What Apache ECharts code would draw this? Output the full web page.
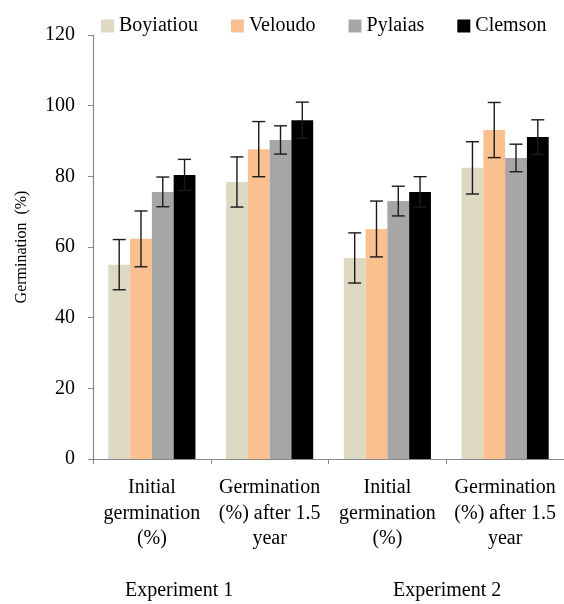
<!DOCTYPE html>
<html>
<head>
<meta charset="utf-8">
<script src="https://cdn.jsdelivr.net/npm/echarts@6/dist/echarts.min.js"></script>
<style>html,body{margin:0;padding:0;background:#fff}#c{width:564px;height:604px}</style>
</head>
<body>
<div id="c"></div>
<script>
const categories = ['Initial\ngermination\n(%)', 'Germination\n(%) after 1.5\nyear', 'Initial\ngermination\n(%)', 'Germination\n(%) after 1.5\nyear'];
const experiments = ['Experiment 1', 'Experiment 2'];
const seriesNames = ['Boyiatiou', 'Veloudo', 'Pylaias', 'Clemson'];
const boyiatiou = [55.0, 78.4, 56.9, 82.4];
const veloudo = [62.3, 87.7, 65.1, 93.1];
const pylaias = [75.6, 90.3, 73.0, 85.2];
const clemson = [80.4, 95.9, 75.6, 91.1];
const boyiatiouErr = [7.1, 7.1, 7.1, 7.4];
const veloudoErr = [7.9, 7.8, 7.9, 7.8];
const pylaiasErr = [4.2, 4.0, 4.2, 3.9];
const clemsonErr = [4.4, 5.1, 4.3, 4.9];
const yTicks = [0, 20, 40, 60, 80, 100, 120];

const colors = ['#DDD9C3', '#FAC090', '#A6A6A6', '#000000'];
const means = [boyiatiou, veloudo, pylaias, clemson];
const errs = [boyiatiouErr, veloudoErr, pylaiasErr, clemsonErr];
const FONT = '"Liberation Serif", "Times New Roman", serif';
const GAP = 0.26;

const errData = [];
means.forEach((arr, s) => arr.forEach((v, i) => errData.push([i, s, v, errs[s][i]])));

const chart = echarts.init(document.getElementById('c'));
chart.setOption({
  animation: false,
  backgroundColor: '#fff',
  textStyle: { fontFamily: FONT },
  legend: {
    data: seriesNames,
    left: 101, top: 16, padding: 0,
    icon: 'rect', itemWidth: 13, itemHeight: 13, itemGap: 33,
    textStyle: { fontFamily: FONT, fontSize: 20, color: '#000' }
  },
  grid: { left: 93, right: 0, top: 35, bottom: 145, containLabel: false },
  xAxis: {
    type: 'category',
    data: categories,
    axisLine: { lineStyle: { color: '#888', width: 1.2 } },
    axisTick: { show: true, length: 5, interval: 0, lineStyle: { color: '#888' } },
    axisLabel: { interval: 0, margin: 16, fontFamily: FONT, fontSize: 20, lineHeight: 25.5, color: '#000' }
  },
  yAxis: {
    type: 'value', min: yTicks[0], max: yTicks[yTicks.length - 1], interval: 20,
    name: 'Germination  (%)', nameLocation: 'middle', nameGap: 63,
    nameTextStyle: { fontFamily: FONT, fontSize: 16, color: '#000' },
    splitLine: { show: false },
    axisLine: { show: true, lineStyle: { color: '#888', width: 1.2 } },
    axisTick: { show: true, length: 5, lineStyle: { color: '#888' } },
    axisLabel: { margin: 18, fontFamily: FONT, fontSize: 20, color: '#000' }
  },
  series: seriesNames.map((n, s) => ({
    name: n, type: 'bar', data: means[s],
    barGap: '0%', barCategoryGap: (GAP * 100) + '%',
    itemStyle: { color: colors[s] }
  })).concat([{
    type: 'custom', name: 'err', data: errData, z: 10,
    encode: { x: 0, y: 2 },
    renderItem: function (params, api) {
      const cat = api.value(0), s = api.value(1), m = api.value(2), sd = api.value(3);
      const catW = api.size([1, 0])[0];
      const bw = catW * (1 - GAP) / 4;
      const c = api.coord([cat, m]);
      const x = c[0] + (s - 1.5) * bw;
      const top = api.coord([cat, m + sd])[1];
      const bot = api.coord([cat, m - sd])[1];
      const hw = 6.5;
      const st = { stroke: '#1a1a1a', lineWidth: 1.4 };
      return { type: 'group', children: [
        { type: 'line', shape: { x1: x, y1: top, x2: x, y2: bot }, style: st },
        { type: 'line', shape: { x1: x - hw, y1: top, x2: x + hw, y2: top }, style: st },
        { type: 'line', shape: { x1: x - hw, y1: bot, x2: x + hw, y2: bot }, style: st }
      ] };
    }
  }]),
  graphic: [
    { type: 'text', left: 125, top: 581, style: { text: experiments[0], fontFamily: FONT, fontSize: 20, fill: '#000' } },
    { type: 'text', left: 393, top: 581, style: { text: experiments[1], fontFamily: FONT, fontSize: 20, fill: '#000' } }
  ]
});
</script>
</body>
</html>
